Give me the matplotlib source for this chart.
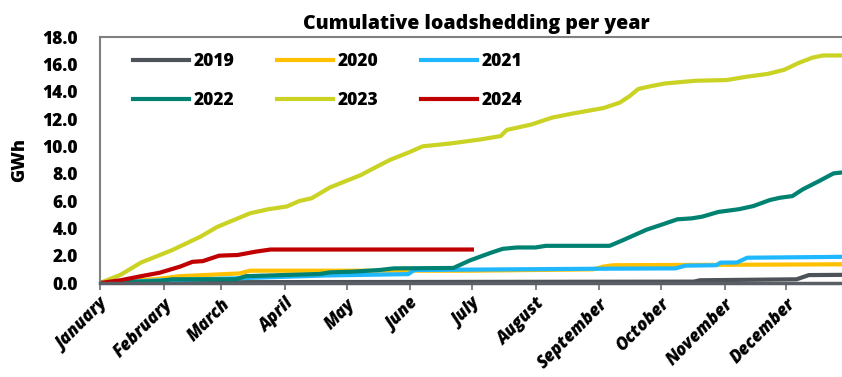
import matplotlib
matplotlib.use('Agg')
import matplotlib.pyplot as plt

# Day of year -> cumulative GWh
day_2019 = [0, 289, 292, 339, 345, 365]
gwh_2019 = [0.05, 0.1, 0.2, 0.27, 0.58, 0.6]

day_2020 = [0, 28, 39, 68, 73, 120, 180, 240, 245, 250, 300, 365]
gwh_2020 = [0, 0.3, 0.5, 0.7, 0.9, 0.9, 0.9, 1.0, 1.2, 1.3, 1.33, 1.37]

day_2021 = [0, 30, 68, 110, 150, 153, 200, 250, 280, 285, 300, 302, 310, 315, 365]
gwh_2021 = [0, 0.2, 0.35, 0.55, 0.65, 0.95, 1.0, 1.05, 1.07, 1.27, 1.3, 1.49, 1.5, 1.85, 1.92]

day_2022 = [0, 29, 35, 66, 71, 107, 112, 123, 136, 143, 172, 180, 190, 196, 203,
            212, 217, 248, 254, 266, 274, 281, 288, 293, 301, 311, 318, 326, 331,
            337, 342, 350, 357, 365]
gwh_2022 = [0, 0.15, 0.27, 0.27, 0.5, 0.66, 0.78, 0.83, 0.95, 1.07, 1.1, 1.65, 2.2,
            2.5, 2.6, 2.6, 2.72, 2.72, 3.1, 3.9, 4.3, 4.66, 4.73, 4.85, 5.2, 5.4,
            5.63, 6.07, 6.24, 6.36, 6.85, 7.46, 8.02, 8.15]

day_2023 = [0, 5, 10, 20, 35, 49, 57, 65, 73, 82, 91, 97, 103, 112, 122, 127, 132,
            141, 151, 157, 170, 185, 195, 198, 210, 220, 230, 245, 253, 258, 262,
            268, 275, 290, 305, 315, 325, 333, 340, 347, 352, 365]
gwh_2023 = [0, 0.3, 0.6, 1.5, 2.4, 3.4, 4.1, 4.6, 5.1, 5.4, 5.6, 6.0, 6.2, 7.0, 7.6,
            7.9, 8.3, 9.0, 9.6, 10.0, 10.2, 10.5, 10.75, 11.2, 11.6, 12.1, 12.4,
            12.8, 13.2, 13.7, 14.2, 14.4, 14.6, 14.8, 14.85, 15.1, 15.3, 15.6, 16.1,
            16.5, 16.65, 16.65]

day_2024 = [0, 10, 20, 29, 39, 45, 50, 58, 67, 76, 83, 181]
gwh_2024 = [0, 0.2, 0.5, 0.75, 1.2, 1.55, 1.6, 2.0, 2.05, 2.3, 2.45, 2.45]

month_days = [0, 31, 59, 90, 120, 151, 181, 212, 243, 273, 304, 334]
month_names = ['January', 'February', 'March', 'April', 'May', 'June', 'July',
               'August', 'September', 'October', 'November', 'December']

plt.rcParams['font.family'] = ['Open Sans', 'DejaVu Sans']
W = 'heavy'

fig = plt.figure(figsize=(8.42, 3.77), dpi=100)
ax = fig.add_axes([100 / 842, 94 / 377, 752 / 842, 246 / 377])

l19, = ax.plot(day_2019, gwh_2019, color='#4d5359', lw=3, label='2019')
l20, = ax.plot(day_2020, gwh_2020, color='#ffc000', lw=3, label='2020')
l21, = ax.plot(day_2021, gwh_2021, color='#1fb8ff', lw=3, label='2021')
l22, = ax.plot(day_2022, gwh_2022, color='#008272', lw=3, label='2022')
l23, = ax.plot(day_2023, gwh_2023, color='#cad224', lw=3, label='2023')
l24, = ax.plot(day_2024, gwh_2024, color='#c00000', lw=3, label='2024')

ax.set_xlim(0, 366)
ax.set_ylim(0, 18)
ax.set_yticks([i * 2 for i in range(10)])
ax.set_yticklabels(['%.1f' % (i * 2) for i in range(10)], fontsize=12.5, fontweight=W)
ax.tick_params(axis='y', length=0, pad=16)

ax.set_xticks(month_days)
ax.set_xticklabels(month_names, rotation=45, ha='right', rotation_mode='anchor',
                   fontsize=12.3, fontweight=W, fontstyle='italic')
ax.tick_params(axis='x', length=5, width=1.2, color='#6b7077', pad=4)

for side in ['top', 'left']:
    ax.spines[side].set_color('#808080')
    ax.spines[side].set_linewidth(1.5)
ax.spines['bottom'].set_color('#5a5f66')
ax.spines['bottom'].set_linewidth(2.5)
ax.spines['right'].set_visible(False)

ax.set_ylabel('GWh', fontsize=13, fontweight=W, labelpad=10)
ax.set_title('Cumulative loadshedding per year', fontsize=14, fontweight=W, pad=6)

ax.legend([l19, l22, l20, l23, l21, l24], ['2019', '2022', '2020', '2023', '2021', '2024'],
          ncol=3, frameon=False, loc='upper left', bbox_to_anchor=(0.044, 0.933),
          borderaxespad=0, borderpad=0, handlelength=3.2, handletextpad=0.3,
          columnspacing=2.45, labelspacing=1.25,
          prop={'size': 12.5, 'weight': W})

fig.savefig('out.png', dpi=100)
